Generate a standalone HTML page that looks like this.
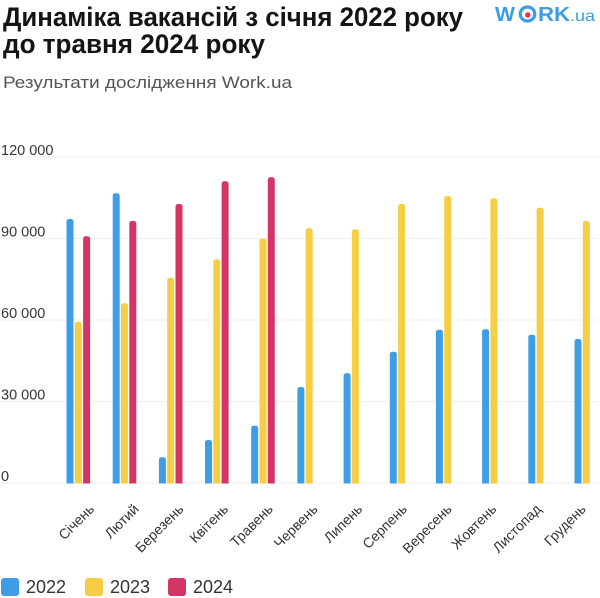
<!DOCTYPE html>
<html>
<head>
<meta charset="utf-8">
<style>
html,body{margin:0;padding:0;background:#fff;}
svg{display:block;}
text{font-family:"Liberation Sans","DejaVu Sans",sans-serif;}
</style>
</head>
<body>
<svg width="600" height="598" viewBox="0 0 600 598" xmlns="http://www.w3.org/2000/svg">
<defs>
<clipPath id="c"><rect x="0" y="0" width="600" height="483.5"/></clipPath>
</defs>
<rect width="600" height="598" fill="#fff"/>

<!-- Title -->
<text x="3" y="26" font-size="27" font-weight="bold" fill="#141414" textLength="460" lengthAdjust="spacingAndGlyphs">Динаміка вакансій з січня 2022 року</text>
<text x="3" y="53" font-size="27" font-weight="bold" fill="#141414" textLength="262" lengthAdjust="spacingAndGlyphs">до травня 2024 року</text>
<text x="3" y="88" font-size="17" fill="#555" textLength="289" lengthAdjust="spacingAndGlyphs">Результати дослідження Work.ua</text>

<!-- Logo -->
<text x="495" y="21" font-size="20" font-weight="bold" fill="#3a9de6" textLength="20" lengthAdjust="spacingAndGlyphs">W</text>
<ellipse cx="527.5" cy="14" rx="7.3" ry="7" fill="none" stroke="#3a9de6" stroke-width="3.2"/>
<circle cx="527.8" cy="15" r="2.7" fill="#d6336a"/>
<text x="538" y="21" font-size="20" font-weight="bold" fill="#3a9de6" textLength="32" lengthAdjust="spacingAndGlyphs">RK</text>
<text x="570" y="21" font-size="16" fill="#3a9de6" textLength="25" lengthAdjust="spacingAndGlyphs">.ua</text>

<!-- Gridlines -->
<g stroke="#efefef" stroke-width="1">
<line x1="0" y1="157" x2="598" y2="157"/>
<line x1="0" y1="238.5" x2="598" y2="238.5"/>
<line x1="0" y1="320" x2="598" y2="320"/>
<line x1="0" y1="401.5" x2="598" y2="401.5"/>
<line x1="0" y1="483" x2="598" y2="483"/>
</g>

<!-- Y labels -->
<g font-size="14.5" fill="#363636">
<text x="1" y="155">120 000</text>
<text x="1" y="236.5">90 000</text>
<text x="1" y="318">60 000</text>
<text x="1" y="399.5">30 000</text>
<text x="1" y="481">0</text>
</g>

<!-- Bars -->
<g clip-path="url(#c)">
<g fill="#3f9de6">
<rect x="66.5" y="219" width="7" height="267" rx="2.5"/>
<rect x="112.7" y="193.3" width="7" height="292.7" rx="2.5"/>
<rect x="158.9" y="457.3" width="7" height="28.7" rx="2.5"/>
<rect x="205.0" y="440" width="7" height="46" rx="2.5"/>
<rect x="251.2" y="425.7" width="7" height="60.3" rx="2.5"/>
<rect x="297.4" y="387" width="7" height="99" rx="2.5"/>
<rect x="343.6" y="373.3" width="7" height="112.7" rx="2.5"/>
<rect x="389.8" y="351.7" width="7" height="134.3" rx="2.5"/>
<rect x="435.9" y="329.7" width="7" height="156.3" rx="2.5"/>
<rect x="482.1" y="329.3" width="7" height="156.7" rx="2.5"/>
<rect x="528.3" y="334.7" width="7" height="151.3" rx="2.5"/>
<rect x="574.5" y="339" width="7" height="147" rx="2.5"/>
</g>
<g fill="#f6ce45">
<rect x="74.8" y="321.7" width="7" height="164.3" rx="2.5"/>
<rect x="121.0" y="303.3" width="7" height="182.7" rx="2.5"/>
<rect x="167.2" y="277.7" width="7" height="208.3" rx="2.5"/>
<rect x="213.3" y="259.3" width="7" height="226.7" rx="2.5"/>
<rect x="259.5" y="238.7" width="7" height="247.3" rx="2.5"/>
<rect x="305.7" y="228.3" width="7" height="257.7" rx="2.5"/>
<rect x="351.9" y="229.3" width="7" height="256.7" rx="2.5"/>
<rect x="398.1" y="204" width="7" height="282" rx="2.5"/>
<rect x="444.2" y="196" width="7" height="290" rx="2.5"/>
<rect x="490.4" y="198.3" width="7" height="287.7" rx="2.5"/>
<rect x="536.6" y="207.7" width="7" height="278.3" rx="2.5"/>
<rect x="582.8" y="221" width="7" height="265" rx="2.5"/>
</g>
<g fill="#d33564">
<rect x="83.1" y="236.3" width="7" height="249.7" rx="2.5"/>
<rect x="129.3" y="221" width="7" height="265" rx="2.5"/>
<rect x="175.5" y="204" width="7" height="282" rx="2.5"/>
<rect x="221.6" y="181.3" width="7" height="304.7" rx="2.5"/>
<rect x="267.8" y="177.3" width="7" height="308.7" rx="2.5"/>
</g>
</g>

<!-- X labels -->
<g font-size="14" fill="#333" text-anchor="end">
<text transform="translate(95,510) rotate(-45)">Січень</text>
<text transform="translate(139.7,510) rotate(-45)">Лютий</text>
<text transform="translate(184.4,510) rotate(-45)">Березень</text>
<text transform="translate(229.1,510) rotate(-45)">Квітень</text>
<text transform="translate(273.8,510) rotate(-45)">Травень</text>
<text transform="translate(318.5,510) rotate(-45)">Червень</text>
<text transform="translate(363.2,510) rotate(-45)">Липень</text>
<text transform="translate(407.9,510) rotate(-45)">Серпень</text>
<text transform="translate(452.6,510) rotate(-45)">Вересень</text>
<text transform="translate(497.3,510) rotate(-45)">Жовтень</text>
<text transform="translate(542,510) rotate(-45)">Листопад</text>
<text transform="translate(586.7,510) rotate(-45)">Грудень</text>
</g>

<!-- Legend -->
<rect x="1" y="578" width="18" height="18" rx="3" fill="#3f9de6"/>
<text x="26" y="593" font-size="18" fill="#333">2022</text>
<rect x="85" y="578" width="18" height="18" rx="3" fill="#f6ce45"/>
<text x="110" y="593" font-size="18" fill="#333">2023</text>
<rect x="168" y="578" width="18" height="18" rx="3" fill="#d33564"/>
<text x="193" y="593" font-size="18" fill="#333">2024</text>
</svg>
</body>
</html>
